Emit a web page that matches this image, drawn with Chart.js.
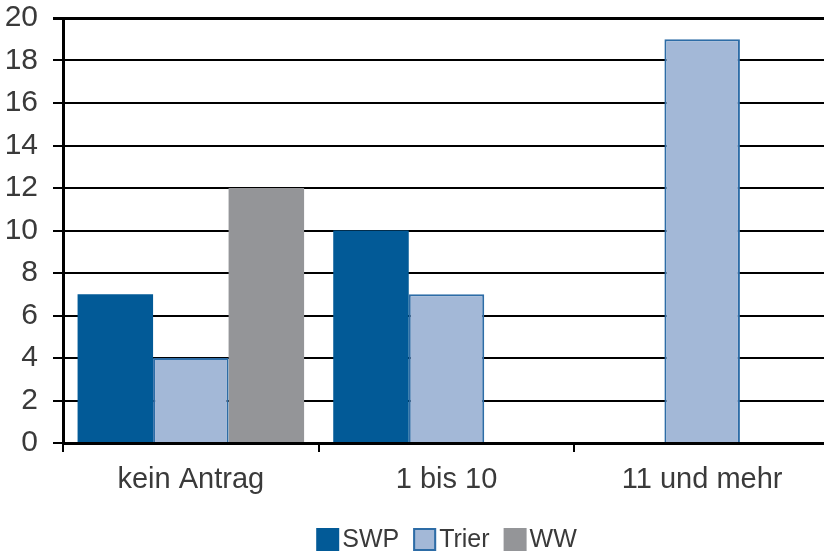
<!DOCTYPE html>
<html>
<head>
<meta charset="utf-8">
<script src="https://cdn.jsdelivr.net/npm/chart.js@4"></script>
<style>
  html, body { margin: 0; padding: 0; background: #fff; overflow: hidden; }
  #wrap { width: 830px; height: 552px; }
</style>
</head>
<body>
<div id="wrap"><canvas id="chart"></canvas></div>
<script>
// Anträge je Gruppe: SWP, Trier, WW
const categories = ["kein Antrag", "1 bis 10", "11 und mehr"];
const swp = [7, 10, 0];
const trier = [4, 7, 19];
const ww = [12, 0, 0];
const yTicks = [0, 2, 4, 6, 8, 10, 12, 14, 16, 18, 20];

const FONT = "'Liberation Sans', Arial, sans-serif";
const TEXT = "#3a3a3a";

// Legend with the swatch sitting right next to its label, centred under the plot.
const tightLegend = {
  id: "tightLegend",
  afterDraw(chart) {
    const { ctx, chartArea } = chart;
    const box = 23, gap = 3, spacing = 14, size = 25;
    ctx.save();
    ctx.font = `${size}px ${FONT}`;
    const items = chart.data.datasets.map((ds) => ({ ds, w: box + gap + ctx.measureText(ds.label).width }));
    const total = items.reduce((s, it) => s + it.w, 0) + spacing * (items.length - 1);
    let x = (chartArea.left + chartArea.right) / 2 - total / 2;
    const top = 528;
    items.forEach(({ ds, w }) => {
      ctx.fillStyle = ds.backgroundColor;
      ctx.fillRect(x, top, box, box);
      if (ds.borderWidth) {
        ctx.strokeStyle = ds.borderColor;
        ctx.lineWidth = 2;
        ctx.strokeRect(x + 1, top + 1, box - 2, box - 2);
      }
      ctx.fillStyle = TEXT;
      ctx.textBaseline = "middle";
      ctx.fillText(ds.label, x + box + gap, top + box / 2 + 1);
      x += w + spacing;
    });
    ctx.restore();
  },
};

new Chart(document.getElementById("chart"), {
  type: "bar",
  data: {
    labels: categories,
    datasets: [
      { label: "SWP", data: swp, backgroundColor: "#025a97", borderWidth: 0 },
      { label: "Trier", data: trier, backgroundColor: "#a3b8d7", borderColor: "#2d6ca6", borderWidth: 2 },
      { label: "WW", data: ww, backgroundColor: "#949598", borderWidth: 0 },
    ],
  },
  options: {
    responsive: true,
    maintainAspectRatio: false,
    animation: false,
    datasets: { bar: { categoryPercentage: 0.886, barPercentage: 1 } },
    layout: { padding: { top: 18, right: 0, bottom: 49, left: 0 } },
    plugins: {
      tooltip: { enabled: false },
      legend: { display: false },
    },
    scales: {
      x: {
        grid: { display: true, drawOnChartArea: false, offset: true, color: "#000", lineWidth: 2, tickLength: 9 },
        border: { color: "#000", width: 3 },
        ticks: { font: { family: FONT, size: 29 }, color: TEXT, padding: 11 },
        afterFit: (s) => { s.height = 60; s.paddingLeft = 0; s.paddingRight = 0; },
      },
      y: {
        min: 0,
        max: 20,
        afterBuildTicks: (s) => { s.ticks = yTicks.map((v) => ({ value: v })); },
        grid: { color: "#000", lineWidth: (c) => (c.tick && c.tick.value === 20 ? 3 : 2), tickLength: 10 },
        border: { color: "#000", width: 3 },
        ticks: { font: { family: FONT, size: 30 }, color: TEXT, padding: 15 },
        afterFit: (s) => { s.width = 63; s.paddingTop = 0; s.paddingBottom = 0; },
      },
    },
  },
  plugins: [tightLegend],
});
</script>
</body>
</html>
